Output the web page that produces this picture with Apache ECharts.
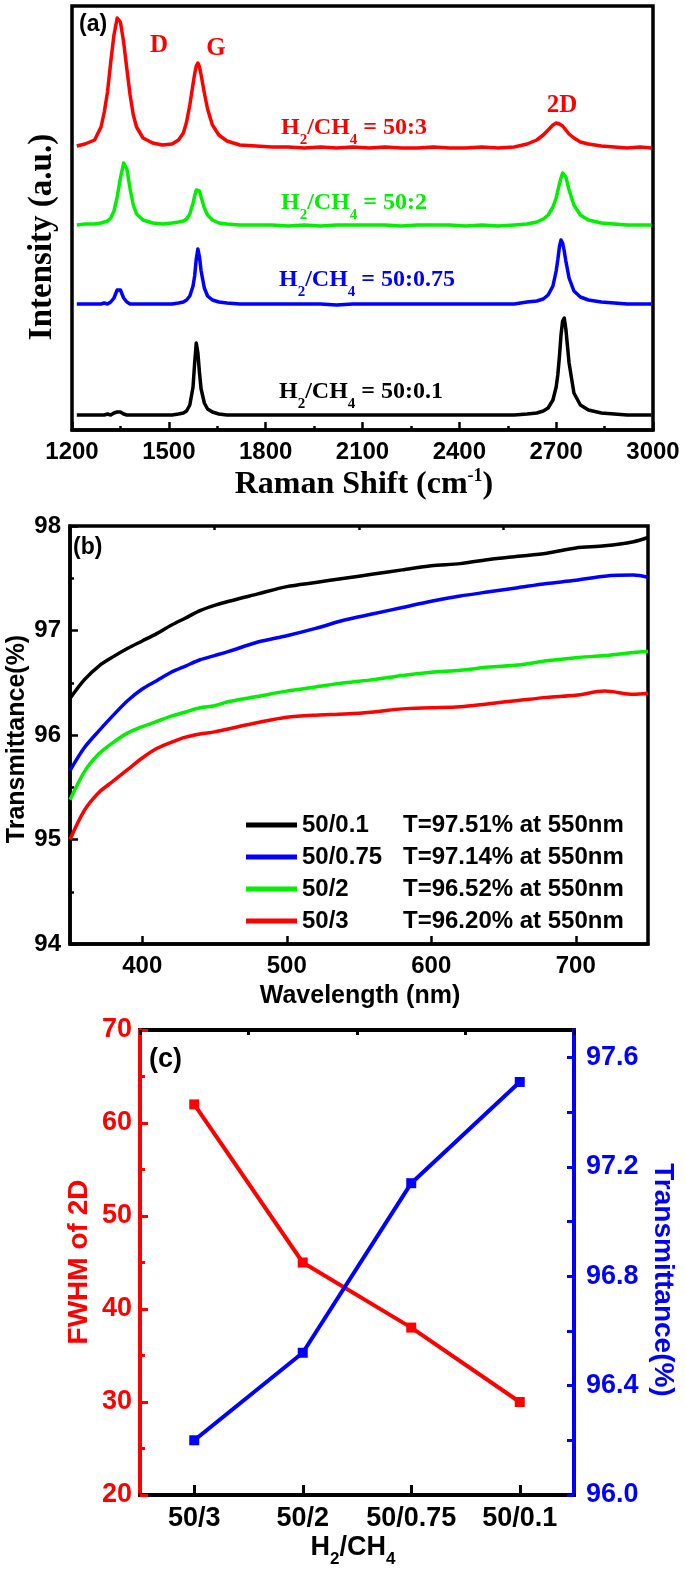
<!DOCTYPE html>
<html><head><meta charset="utf-8">
<script src="https://cdn.jsdelivr.net/npm/echarts@6/dist/echarts.min.js"></script>
<style>html,body{margin:0;padding:0;background:#fff}#c{width:685px;height:1574px}</style>
</head><body><div id="c"></div>
<script>
// ---------- Panel (a): Raman spectra (intensity in arbitrary units, stacked) ----------
const ramanShift = [1215,1240,1270,1290,1300,1310,1320,1330,1340,1350,1360,1370,1380,1390,1400,1420,1450,1480,1510,1530,1545,1555,1565,1575,1580,1585,1590,1595,1600,1610,1620,1635,1655,1680,1720,1770,1820,1870,1920,1970,2020,2070,2120,2170,2220,2270,2320,2370,2420,2470,2520,2570,2610,2640,2660,2675,2690,2700,2705,2710,2715,2720,2725,2730,2740,2755,2775,2800,2840,2880,2920,2960,2995];
const raman50_3 = [284,286,290,303,318,338,368,395,412,408,388,361,335,315,303,292,287,285,286,290,297,308,325,346,356,364,367,363,355,337,321,305,295,289,285,284,283,283,282,283,282,283,282,283,282,282,283,282,282,283,282,283,286,290,295,300,305,307,307,306,305,304,302,300,296,292,288,286,284,283,282,283,282];
const raman50_2 = [205,206,206,207,208,209,212,219,233,252,267,261,241,225,216,210,207,206,207,208,209,211,216,227,234,240,242,239,233,222,215,210,207,206,205,205,205,204,205,204,205,205,205,205,204,205,205,205,204,205,204,205,206,208,211,215,223,232,239,246,252,257,257,253,240,225,215,210,207,206,205,205,205];
const raman50_075 = [126,126,126,126,127,126,128,132,140,140,132,128,126,126,126,126,126,126,126,127,128,130,134,144,154,171,181,173,159,142,134,130,128,127,126,126,126,126,126,126,125,126,126,126,126,126,126,126,126,126,126,126,128,129,131,135,144,159,170,183,190,187,179,169,152,139,133,130,128,127,126,126,126];
const raman50_01 = [15,15,15,15,15,16,15,17,18,18,16,15,15,15,15,15,15,15,15,16,17,19,25,43,67,87,77,57,41,27,21,18,16,15,15,15,15,15,15,15,15,15,15,15,15,15,15,15,15,15,15,15,16,17,19,22,30,43,55,73,95,109,112,101,67,37,25,20,17,16,15,15,15];
const ramanNames = ['H2/CH4 = 50:3','H2/CH4 = 50:2','H2/CH4 = 50:0.75','H2/CH4 = 50:0.1'];
const ramanTicks = [1200,1500,1800,2100,2400,2700,3000];

// ---------- Panel (b): transmittance spectra ----------
const wavelength = [350,360,370,380,390,400,410,420,430,440,450,460,480,500,520,540,560,580,600,620,640,660,680,700,720,740,750];
const trans50_01  = [96.35,96.53,96.66,96.75,96.83,96.90,96.97,97.05,97.12,97.19,97.24,97.28,97.35,97.42,97.46,97.50,97.54,97.58,97.62,97.64,97.68,97.71,97.74,97.79,97.81,97.85,97.89];
const trans50_075 = [95.66,95.88,96.04,96.19,96.33,96.44,96.52,96.60,96.66,96.72,96.76,96.80,96.89,96.95,97.02,97.10,97.16,97.22,97.28,97.33,97.37,97.41,97.45,97.48,97.52,97.53,97.51];
const trans50_2   = [95.38,95.65,95.82,95.93,96.02,96.08,96.13,96.18,96.22,96.26,96.28,96.32,96.37,96.42,96.46,96.50,96.53,96.57,96.60,96.62,96.65,96.67,96.71,96.74,96.76,96.79,96.80];
const trans50_3   = [95.00,95.28,95.45,95.56,95.67,95.78,95.87,95.93,95.98,96.01,96.03,96.06,96.12,96.17,96.19,96.20,96.22,96.25,96.26,96.27,96.30,96.33,96.36,96.38,96.42,96.39,96.40];
const transNames = ['50/0.1','50/0.75','50/2','50/3'];
const legendNotes = ['T=97.51% at 550nm','T=97.14% at 550nm','T=96.52% at 550nm','T=96.20% at 550nm'];
const wlLabelTicks = [400,500,600,700];
const wlMinorTicks = [450,550,650];

// ---------- Panel (c): FWHM and transmittance vs ratio ----------
const ratioCats = ['50/3','50/2','50/0.75','50/0.1'];
const fwhm2D = [62,45,38,30];
const transAt550 = [96.20,96.52,97.14,97.51];
const rightLabelTicks = [96.0,96.4,96.8,97.2,97.6];
const rightTicks = [96.0,96.2,96.4,96.6,96.8,97.0,97.2,97.4,97.6];

const RED='#ff0000', GREEN='#00f000', BLUE='#0000ff', BLACK='#000000';
const SANS='Liberation Sans, Arial, sans-serif', SERIF='Liberation Serif, Times New Roman, serif';
const pair = (xs, ys) => xs.map((x,i)=>[x, ys[i]]);

const chart = echarts.init(document.getElementById('c'), null, {renderer:'canvas'});

const tickFont = {fontFamily:SANS, fontWeight:'bold', fontSize:24, color:BLACK};
const subRich = (size, L) => ({
  n:{fontFamily:SERIF, fontWeight:'bold', fontSize:size, lineHeight:L, verticalAlign:'middle'},
  s:{fontFamily:SERIF, fontWeight:'bold', fontSize:Math.round(size*0.62), lineHeight:14, verticalAlign:'bottom'}
});
function h2ch4(txt){ return '{n|H}{s|2}{n|/CH}{s|4}{n|' + txt + '}'; }

const ramanColors=[RED,GREEN,BLUE,BLACK];
const ramanData=[raman50_3,raman50_2,raman50_075,raman50_01];
const labelY=[128,203,280,392];
const labelX=[281,281,279,279];

const graphics = [
  {type:'text', x:79, y:25, style:{text:'(a)', font:'bold 23px '+SANS, fill:BLACK, verticalAlign:'middle'}},
  {type:'text', x:159, y:46, style:{text:'D', font:'bold 25px '+SERIF, fill:RED, align:'center', verticalAlign:'middle'}},
  {type:'text', x:216, y:49, style:{text:'G', font:'bold 25px '+SERIF, fill:RED, align:'center', verticalAlign:'middle'}},
  {type:'text', x:562, y:106, style:{text:'2D', font:'bold 25px '+SERIF, fill:RED, align:'center', verticalAlign:'middle'}},
  {type:'text', x:42, y:237, rotation:Math.PI/2, style:{text:'Intensity (a.u.)', font:'bold 33px '+SERIF, fill:BLACK, align:'center', verticalAlign:'middle'}},
  {type:'text', x:364, y:485, style:{text:'{n|Raman Shift (cm}{p|-1}{n|)}', align:'center', verticalAlign:'middle',
     rich:{n:{fontFamily:SERIF,fontWeight:'bold',fontSize:32,lineHeight:36,verticalAlign:'middle'},
           p:{fontFamily:SERIF,fontWeight:'bold',fontSize:18,lineHeight:24,verticalAlign:'top'}}}},
  {type:'text', x:73, y:548, style:{text:'(b)', font:'bold 23px '+SANS, fill:BLACK, verticalAlign:'middle'}},
  {type:'text', x:17, y:739, rotation:Math.PI/2, style:{text:'Transmittance(%)', font:'bold 25px '+SANS, fill:BLACK, align:'center', verticalAlign:'middle'}},
  {type:'text', x:360, y:996, style:{text:'Wavelength (nm)', font:'bold 25px '+SANS, fill:BLACK, align:'center', verticalAlign:'middle'}},
  {type:'text', x:149, y:1060, style:{text:'(c)', font:'bold 27px '+SANS, fill:BLACK, verticalAlign:'middle'}},
  {type:'text', x:79, y:1262, rotation:Math.PI/2, style:{text:'FWHM of 2D', font:'bold 28px '+SANS, fill:RED, align:'center', verticalAlign:'middle'}},
  {type:'text', x:663, y:1280, rotation:-Math.PI/2, style:{text:'Transmittance(%)', font:'bold 28px '+SANS, fill:BLUE, align:'center', verticalAlign:'middle'}},
  {type:'text', x:353, y:1548, style:{text:'{n|H}{s|2}{n|/CH}{s|4}', align:'center', verticalAlign:'middle',
     rich:{n:{fontFamily:SANS,fontWeight:'bold',fontSize:27,lineHeight:40,verticalAlign:'middle'},
           s:{fontFamily:SANS,fontWeight:'bold',fontSize:17,lineHeight:14,verticalAlign:'bottom'}}}}
];
ramanNames.forEach((nm,i)=>{
  const r = subRich(24,40);
  r.n.fill = ramanColors[i]; r.s.fill = ramanColors[i];
  r.n.color = ramanColors[i]; r.s.color = ramanColors[i];
  graphics.push({type:'text', x:labelX[i], y:labelY[i], style:{text:h2ch4(nm.replace('H2/CH4','')), align:'left', verticalAlign:'middle', fill:ramanColors[i], rich:r}});
});

const series = [];
ramanNames.forEach((nm,i)=>{
  series.push({name:nm, type:'line', xAxisIndex:0, yAxisIndex:0, data:pair(ramanShift, ramanData[i]),
    showSymbol:false, smooth:false, lineStyle:{width:3.5, color:ramanColors[i], join:'round'}, itemStyle:{color:ramanColors[i]}, z:3});
});
const transData=[trans50_01,trans50_075,trans50_2,trans50_3];
const transColors=[BLACK,BLUE,GREEN,RED];
transNames.forEach((nm,i)=>{
  series.push({name:nm, type:'line', xAxisIndex:1, yAxisIndex:1, data:pair(wavelength, transData[i]),
    showSymbol:false, smooth:0.3, lineStyle:{width:3.5, color:transColors[i]}, itemStyle:{color:transColors[i]}, z:3});
});
series.push({name:'FWHM', type:'line', xAxisIndex:3, yAxisIndex:2, data:fwhm2D, symbol:'rect', symbolSize:10,
  lineStyle:{width:4, color:RED}, itemStyle:{color:RED}, z:4});
series.push({name:'T550', type:'line', xAxisIndex:3, yAxisIndex:3, data:transAt550, symbol:'rect', symbolSize:10,
  lineStyle:{width:4, color:BLUE}, itemStyle:{color:BLUE}, z:4});

const option = {
  animation:false,
  backgroundColor:'#ffffff',
  grid:[
    {left:72, right:32, top:6, height:424, show:true, borderColor:BLACK, borderWidth:3.5, containLabel:false},
    {left:70, right:37, top:526, height:418, show:true, borderColor:BLACK, borderWidth:3.5, containLabel:false},
    {left:140, right:111, top:1030, height:465, show:true, borderColor:BLACK, borderWidth:4, containLabel:false}
  ],
  legend:{
    data:transNames, left:241, top:808, orient:'vertical', itemWidth:51, itemHeight:5, itemGap:8, icon:'rect',
    selectedMode:false,
    formatter:(name)=>'{a|'+name+'}{b|'+legendNotes[transNames.indexOf(name)]+'}',
    textStyle:{fontFamily:SANS, fontWeight:'bold', fontSize:24, color:BLACK, lineHeight:24,
      rich:{a:{fontFamily:SANS, fontWeight:'bold', fontSize:24, color:BLACK, width:101, lineHeight:24},
            b:{fontFamily:SANS, fontWeight:'bold', fontSize:24, color:BLACK, lineHeight:24}}}
  },
  xAxis:[
    {type:'value', gridIndex:0, min:1200, max:3000, interval:300,
     axisLine:{show:true, lineStyle:{color:BLACK, width:3.5}},
     axisTick:{show:true, inside:true, length:8, lineStyle:{color:BLACK, width:2.5}},
     minorTick:{show:true, splitNumber:2, length:4, lineStyle:{color:BLACK, width:2.5}},
     splitLine:{show:false},
     axisLabel:Object.assign({margin:10, customValues:ramanTicks, formatter:(v)=>String(Math.round(v))}, tickFont)},
    {type:'value', gridIndex:1, min:350, max:750, interval:50,
     axisLine:{show:true, lineStyle:{color:BLACK, width:3.5}},
     axisTick:{show:true, inside:true, length:8, lineStyle:{color:BLACK, width:2.5}, customValues:wlLabelTicks},
     splitLine:{show:false},
     axisLabel:Object.assign({margin:10, customValues:wlLabelTicks, formatter:(v)=> (v%100===0 && v>350 && v<750)? String(v):''}, tickFont)},
    {type:'value', gridIndex:1, min:350, max:750, interval:50,
     axisLine:{show:false},
     axisTick:{show:true, inside:true, length:4, lineStyle:{color:BLACK, width:2.5}, customValues:wlMinorTicks},
     splitLine:{show:false}, axisLabel:{show:false}},
    {type:'category', gridIndex:2, data:ratioCats, boundaryGap:true,
     axisLine:{show:true, lineStyle:{color:BLACK, width:4}},
     axisTick:{show:true, inside:true, alignWithLabel:true, length:10, lineStyle:{color:BLACK, width:3}},
     splitLine:{show:false},
     axisLabel:{margin:10, fontFamily:SANS, fontWeight:'bold', fontSize:27, color:BLACK, interval:0}},
    {type:'category', gridIndex:2, data:ratioCats, boundaryGap:true,
     axisLine:{show:false},
     axisTick:{show:true, inside:true, alignWithLabel:false, length:5, interval:0, lineStyle:{color:BLACK, width:3}},
     splitLine:{show:false}, axisLabel:{show:false}}
  ],
  yAxis:[
    {type:'value', gridIndex:0, min:0, max:424, axisLine:{show:false}, axisTick:{show:false}, axisLabel:{show:false}, splitLine:{show:false}},
    {type:'value', gridIndex:1, min:94, max:98, interval:1,
     axisLine:{show:true, lineStyle:{color:BLACK, width:3.5}},
     axisTick:{show:true, inside:true, length:8, lineStyle:{color:BLACK, width:2.5}},
     minorTick:{show:true, splitNumber:2, length:4, lineStyle:{color:BLACK, width:2.5}},
     splitLine:{show:false},
     axisLabel:Object.assign({margin:9}, tickFont)},
    {type:'value', gridIndex:2, position:'left', min:20, max:70, interval:10,
     axisLine:{show:true, lineStyle:{color:RED, width:4}},
     axisTick:{show:true, inside:true, length:8, lineStyle:{color:RED, width:3}},
     minorTick:{show:true, splitNumber:2, length:5, lineStyle:{color:RED, width:3}},
     splitLine:{show:false},
     axisLabel:{margin:8, fontFamily:SANS, fontWeight:'bold', fontSize:27, color:RED}},
    {type:'value', gridIndex:2, position:'right', min:96.0, max:97.7, interval:0.4,
     axisLine:{show:true, lineStyle:{color:BLUE, width:4}},
     axisTick:{show:true, inside:true, length:7, lineStyle:{color:BLUE, width:3}, customValues:rightTicks},
     splitLine:{show:false},
     axisLabel:{margin:12, fontFamily:SANS, fontWeight:'bold', fontSize:27, color:BLUE, customValues:rightLabelTicks,
       formatter:(v)=>Number(v).toFixed(1)}}
  ],
  graphic:graphics,
  series:series
};
chart.setOption(option);
</script>
</body></html>
